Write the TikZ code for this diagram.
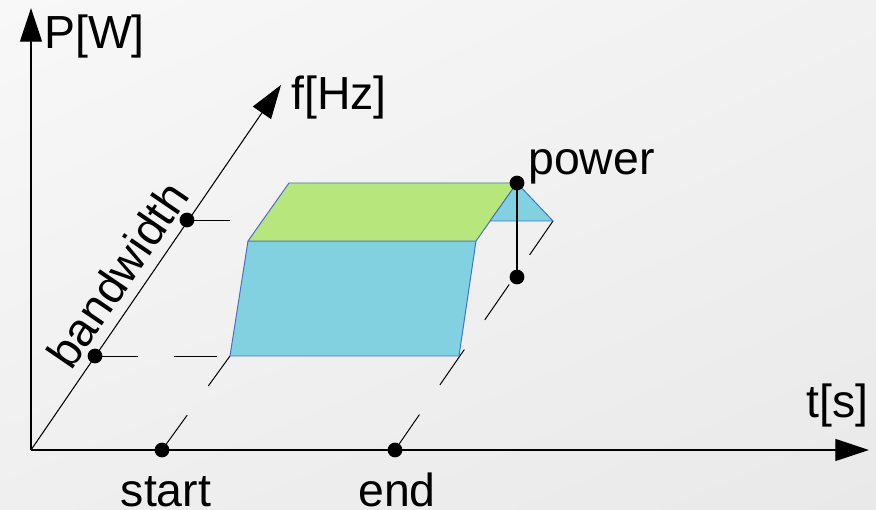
\documentclass[tikz,border=0pt]{standalone}
\usepackage{fontspec}
\setmainfont{Liberation Sans}
\usetikzlibrary{arrows.meta, positioning, shadings}
\definecolor{facecyan}{RGB}{129,209,224}
\definecolor{facegreen}{RGB}{183,230,125}
\definecolor{faceedge}{RGB}{68,114,196}
\definecolor{bgtl}{RGB}{248,248,248}
\definecolor{bgtr}{RGB}{241,241,241}
\definecolor{bgbl}{RGB}{239,239,239}
\definecolor{bgbr}{RGB}{233,233,233}

\begin{document}
\begin{tikzpicture}[x=0.025cm, y=-0.025cm, >={Triangle[length=24pt,width=15.6pt]},
    axis/.style={->, line width=1pt},
    guide/.style={line width=0.7pt, dash pattern=on 30.6pt off 25.6pt},
    dot/.style={circle, fill=black, inner sep=0pt, minimum size=10.5pt},
    face/.style={draw=faceedge, line width=0.7pt, line join=round},
    lbl/.style={inner sep=0pt, font=\fontsize{33}{40}\selectfont}]
      \shade[upper left=bgtl, upper right=bgtr, lower left=bgbl, lower right=bgbr] (0,0) rectangle (876,510);
      \useasboundingbox (0,0) rectangle (876,510);
      % axes
      \coordinate (O) at (31,450);
      \coordinate (Ptip) at (31,8);
      \coordinate (ttip) at (869,450);
      \coordinate (ftip) at (281,85);
      \draw[axis] (O) -- (Ptip);
      \draw[axis] (O) -- (ttip);
      \draw[axis, line width=0.75pt] (O) -- (ftip);
      \node[dot] (start) at (162,450) {};
      \node[dot] (end) at (395,450) {};
      \node[dot] (bwlo) at (95,356) {};
      \node[dot] (bwhi) at (187,220) {};
      % corners of the block
      \coordinate (fbl) at (230,356);
      \coordinate (fbr) at (459,356);
      \coordinate (ftr) at (476,241);
      \coordinate (ftl) at (248,241);
      \coordinate (ttl) at (289,183);
      \coordinate (ttr) at (517,183);
      \coordinate (tri) at (553,221);
      \coordinate (trl) at (490,221);
      \draw[guide] (start.center) -- (fbl);
      \draw[guide] (end.center) -- (tri);
      \draw[guide] (bwlo.center) -- (fbl);
      \draw[guide] (bwhi.center) -- (bwhi -| fbr);
      \filldraw[face, fill=facecyan] (fbl) -- (fbr) -- (ftr) -- (ftl) -- cycle;
      \filldraw[face, fill=facegreen] (ftl) -- (ftr) -- (ttr) -- (ttl) -- cycle;
      \filldraw[face, fill=facecyan] (ttr) -- (tri) -- (trl) -- cycle;
      \node[dot] (pow) at (ttr) {};
      \node[dot] (foot) at (517,277) {};
      \draw[line width=1pt] (pow.center) -- (foot.center);
      % labels
      \node[lbl, anchor=base west] (plbl) at (44,49) {P[W]};
      \node[lbl, anchor=base west] (flbl) at (291,110) {f[Hz]};
      \node[lbl, anchor=base west] (tlbl) at (806,418) {t[s]};
      \node[lbl, anchor=base west] (powlbl) at (528,175) {power};
      \node[lbl, anchor=base] (startlbl) at (166,507) {start};
      \node[lbl, anchor=base] (endlbl) at (397,507) {end};
      \node[lbl, anchor=base, rotate=55.7] (bwlbl) at (131,284) {bandwidth};
\end{tikzpicture}
\end{document}
